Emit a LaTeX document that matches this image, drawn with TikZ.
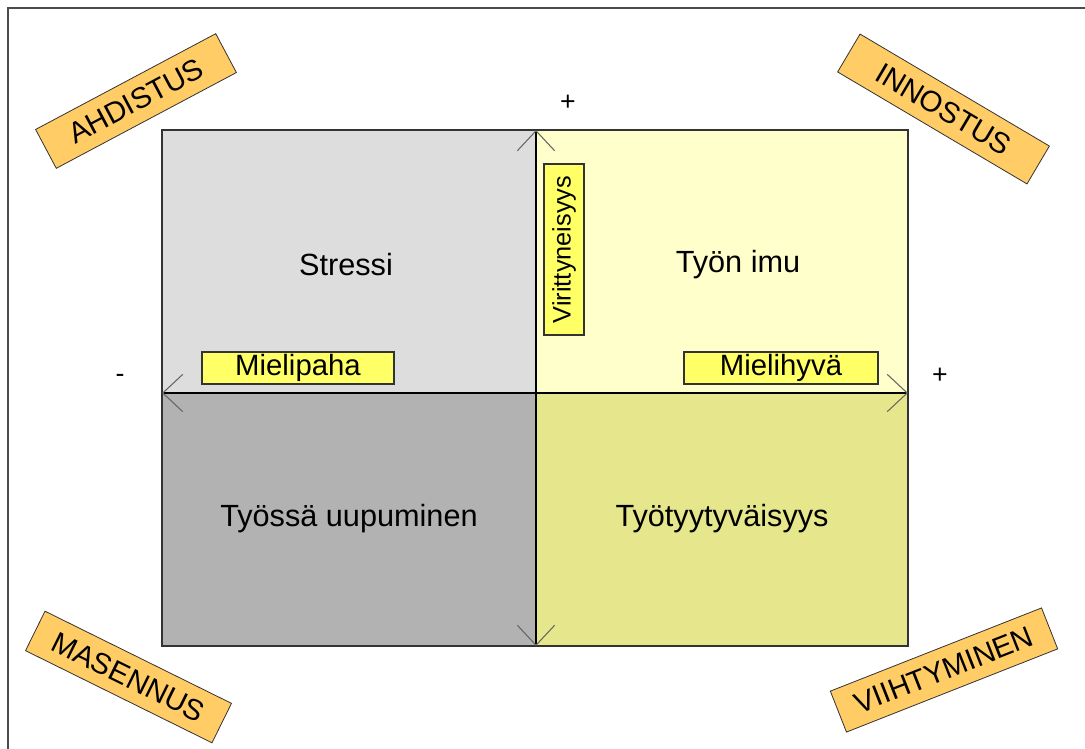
\documentclass[tikz,border=0pt]{standalone}
\usepackage{fontspec}
\setmainfont{Liberation Sans}
\usepackage{tikz}
\usetikzlibrary{arrows.meta, positioning}

\definecolor{stressgray}{RGB}{221,221,221}
\definecolor{burnoutgray}{RGB}{178,178,178}
\definecolor{imuyellow}{RGB}{255,255,204}
\definecolor{tyytyellow}{RGB}{230,230,140}
\definecolor{tagyellow}{RGB}{255,255,102}
\definecolor{moodorange}{RGB}{255,204,102}

\tikzset{
  quadtext/.style={font=\fontsize{23}{26}\selectfont},
  axistag/.style={draw=black!80, fill=tagyellow, line width=0.8pt, inner sep=0pt, font=\fontsize{22}{24}\selectfont},
  moodtag/.style={draw=black!80, fill=moodorange, line width=0.6pt, inner sep=0pt, minimum height=44*0.75pt, font=\fontsize{22}{24}\selectfont},
  axisbarb/.style={{Straight Barb[length=15pt,width=28pt,line width=0.8pt,color=black!60]}-{Straight Barb[length=15pt,width=28pt,line width=0.8pt,color=black!60]}},
  signtext/.style={font=\fontsize{20}{22}\selectfont}
}

\begin{document}
\begin{tikzpicture}[x=0.75pt, y=-0.75pt]
  \useasboundingbox (0,0) rectangle (1085,749);
  \draw[black!70, line width=1.2pt] (8,749) -- (8,8) -- (1085,8);

  % grid corners
  \coordinate (nw) at (162,130); \coordinate (n) at (536,130); \coordinate (ne) at (908,130);
  \coordinate (w) at (162,393); \coordinate (c) at (536,393); \coordinate (e) at (908,393);
  \coordinate (sw) at (162,646); \coordinate (s) at (536,646); \coordinate (se) at (908,646);

  % quadrants
  \fill[stressgray] (nw) rectangle (c); \fill[imuyellow] (n) rectangle (e);
  \fill[burnoutgray] (w) rectangle (s); \fill[tyytyellow] (c) rectangle (se);
  \draw[black!80, line width=1.2pt] (nw) rectangle (se);

  \node[quadtext] (stressi) at (346,265) {Stressi};
  \node[quadtext] (imu) at (738,265) {Työn imu};
  \node[quadtext] (uupuminen) at (349,519) {Työssä uupuminen};
  \node[quadtext] (tyytyvaisyys) at (722,519) {Työtyytyväisyys};

  % axes
  \draw[axisbarb, black, line width=1pt] (w) -- (e);
  \draw[axisbarb, black, line width=1pt] (s) -- (n);

  \node[axistag, minimum width=192*0.75pt, minimum height=32*0.75pt] (mielipaha) at (298,368) {Mielipaha};
  \node[axistag, minimum width=194*0.75pt, minimum height=32*0.75pt] (mielihyva) at (781,368) {Mielihyvä};
  \node[axistag, rotate=90, minimum width=171*0.75pt, minimum height=40*0.75pt, font=\fontsize{19}{21}\selectfont] (virittyneisyys) at (564,249.5) {Virittyneisyys};

  \node[signtext] (plusup) at (568,103) {+};
  \node[signtext] (minusleft) at (120,378) {-};
  \node[signtext] (plusright) at (940,376) {+};

  % moods in the corners
  \node[moodtag, minimum width=204*0.75pt, rotate=28] (ahdistus) at (136,101) {AHDISTUS};
  \node[moodtag, minimum width=220*0.75pt, rotate=-30.6] (innostus) at (943.5,109) {INNOSTUS};
  \node[moodtag, minimum width=208*0.75pt, rotate=-26.3] (masennus) at (128.5,677) {MASENNUS};
  \node[moodtag, minimum width=227*0.75pt, rotate=21.5] (viihtyminen) at (944,670) {VIIHTYMINEN};
\end{tikzpicture}
\end{document}
